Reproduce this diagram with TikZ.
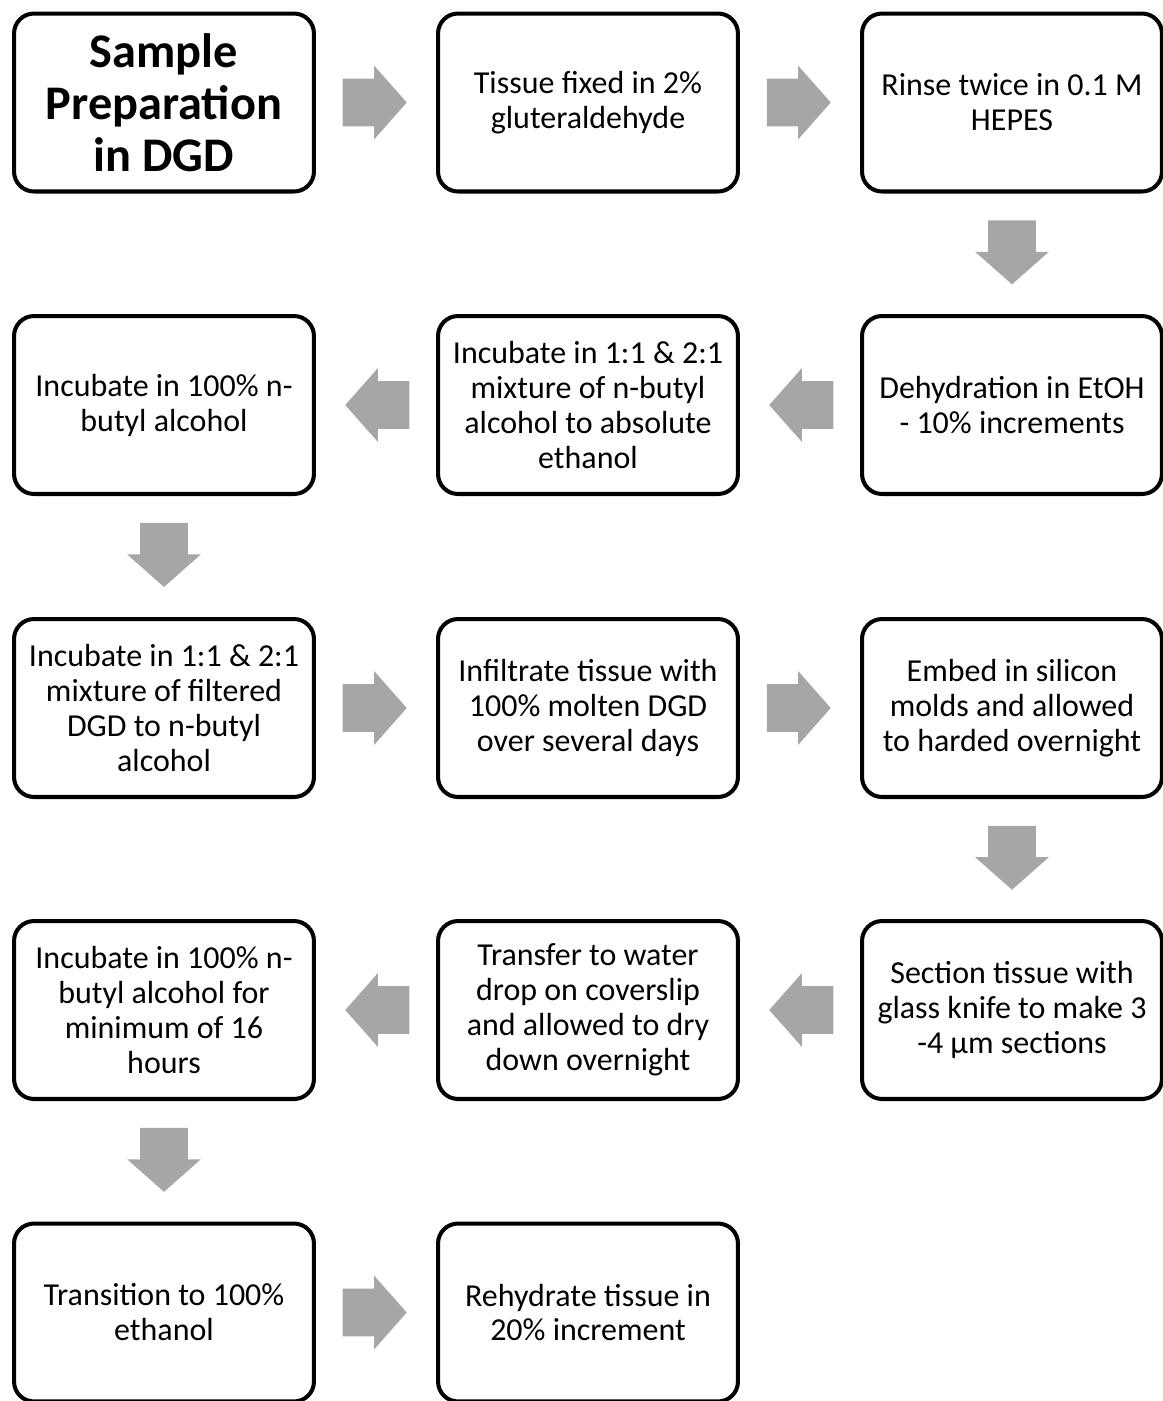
\documentclass[tikz,border=0pt]{standalone}
\usepackage{fontspec}
\setmainfont{Carlito}
\usetikzlibrary{shapes.arrows}
\definecolor{arrowgray}{RGB}{166,166,166}
\tikzset{
	stepbox/.style={draw, line width=2.3pt, rounded corners=0.4cm, minimum width=6.0cm, minimum height=3.56cm, align=center, inner sep=0pt, font=\fontsize{18.2}{19.9}\selectfont},
	titlebox/.style={stepbox, font=\fontsize{27.5}{29.6}\selectfont\bfseries},
	flow/.style={single arrow, fill=arrowgray, draw=none, minimum height=1.28cm, minimum width=1.46cm, single arrow head extend=0.26cm, single arrow head indent=0pt, single arrow tip angle=97, inner xsep=0pt, inner ysep=0.47cm, sloped, allow upside down, anchor=tail, pos=0.22}
}

\begin{document}
\begin{tikzpicture}[x=0.02cm, y=-0.02cm]
	\useasboundingbox (0,0) rectangle (1163,1401);
	% row 1
	\node[titlebox] (title) at (164,102.5) {Sample\\Preparation\\in DGD};
	\node[stepbox] (fix) at (588,102.5) {Tissue fixed in 2\%\\gluteraldehyde};
	\node[stepbox] (rinse) at (1012,102.5) {Rinse twice in 0.1 M\\HEPES};
	% row 2
	\node[stepbox] (dehyd) at (1012,405) {Dehydration in EtOH\\- 10\% increments};
	\node[stepbox] (mixeth) at (588,405) {Incubate in 1:1 \& 2:1\\mixture of n-butyl\\alcohol to absolute\\ethanol};
	\node[stepbox] (butyl) at (164,405) {Incubate in 100\% n-\\butyl alcohol};
	% row 3
	\node[stepbox] (mixdgd) at (164,708) {Incubate in 1:1 \& 2:1\\mixture of filtered\\DGD to n-butyl\\alcohol};
	\node[stepbox] (infil) at (588,708) {Infiltrate tissue with\\100\% molten DGD\\over several days};
	\node[stepbox] (embed) at (1012,708) {Embed in silicon\\molds and allowed\\to harded overnight};
	% row 4
	\node[stepbox] (section) at (1012,1010) {Section tissue with\\glass knife to make 3\\-4 µm sections};
	\node[stepbox] (transfer) at (588,1010) {Transfer to water\\drop on coverslip\\and allowed to dry\\down overnight};
	\node[stepbox] (butylb) at (164,1010) {Incubate in 100\% n-\\butyl alcohol for\\minimum of 16\\hours};
	% row 5
	\node[stepbox] (trans) at (164,1312.5) {Transition to 100\%\\ethanol};
	\node[stepbox] (rehyd) at (588,1312.5) {Rehydrate tissue in\\20\% increment};

	% block arrows
	\path (title) -- node[flow]{} (fix);
	\path (fix) -- node[flow]{} (rinse);
	\path (rinse) -- node[flow]{} (dehyd);
	\path (dehyd) -- node[flow]{} (mixeth);
	\path (mixeth) -- node[flow]{} (butyl);
	\path (butyl) -- node[flow]{} (mixdgd);
	\path (mixdgd) -- node[flow]{} (infil);
	\path (infil) -- node[flow]{} (embed);
	\path (embed) -- node[flow]{} (section);
	\path (section) -- node[flow]{} (transfer);
	\path (transfer) -- node[flow]{} (butylb);
	\path (butylb) -- node[flow]{} (trans);
	\path (trans) -- node[flow]{} (rehyd);
\end{tikzpicture}
\end{document}
